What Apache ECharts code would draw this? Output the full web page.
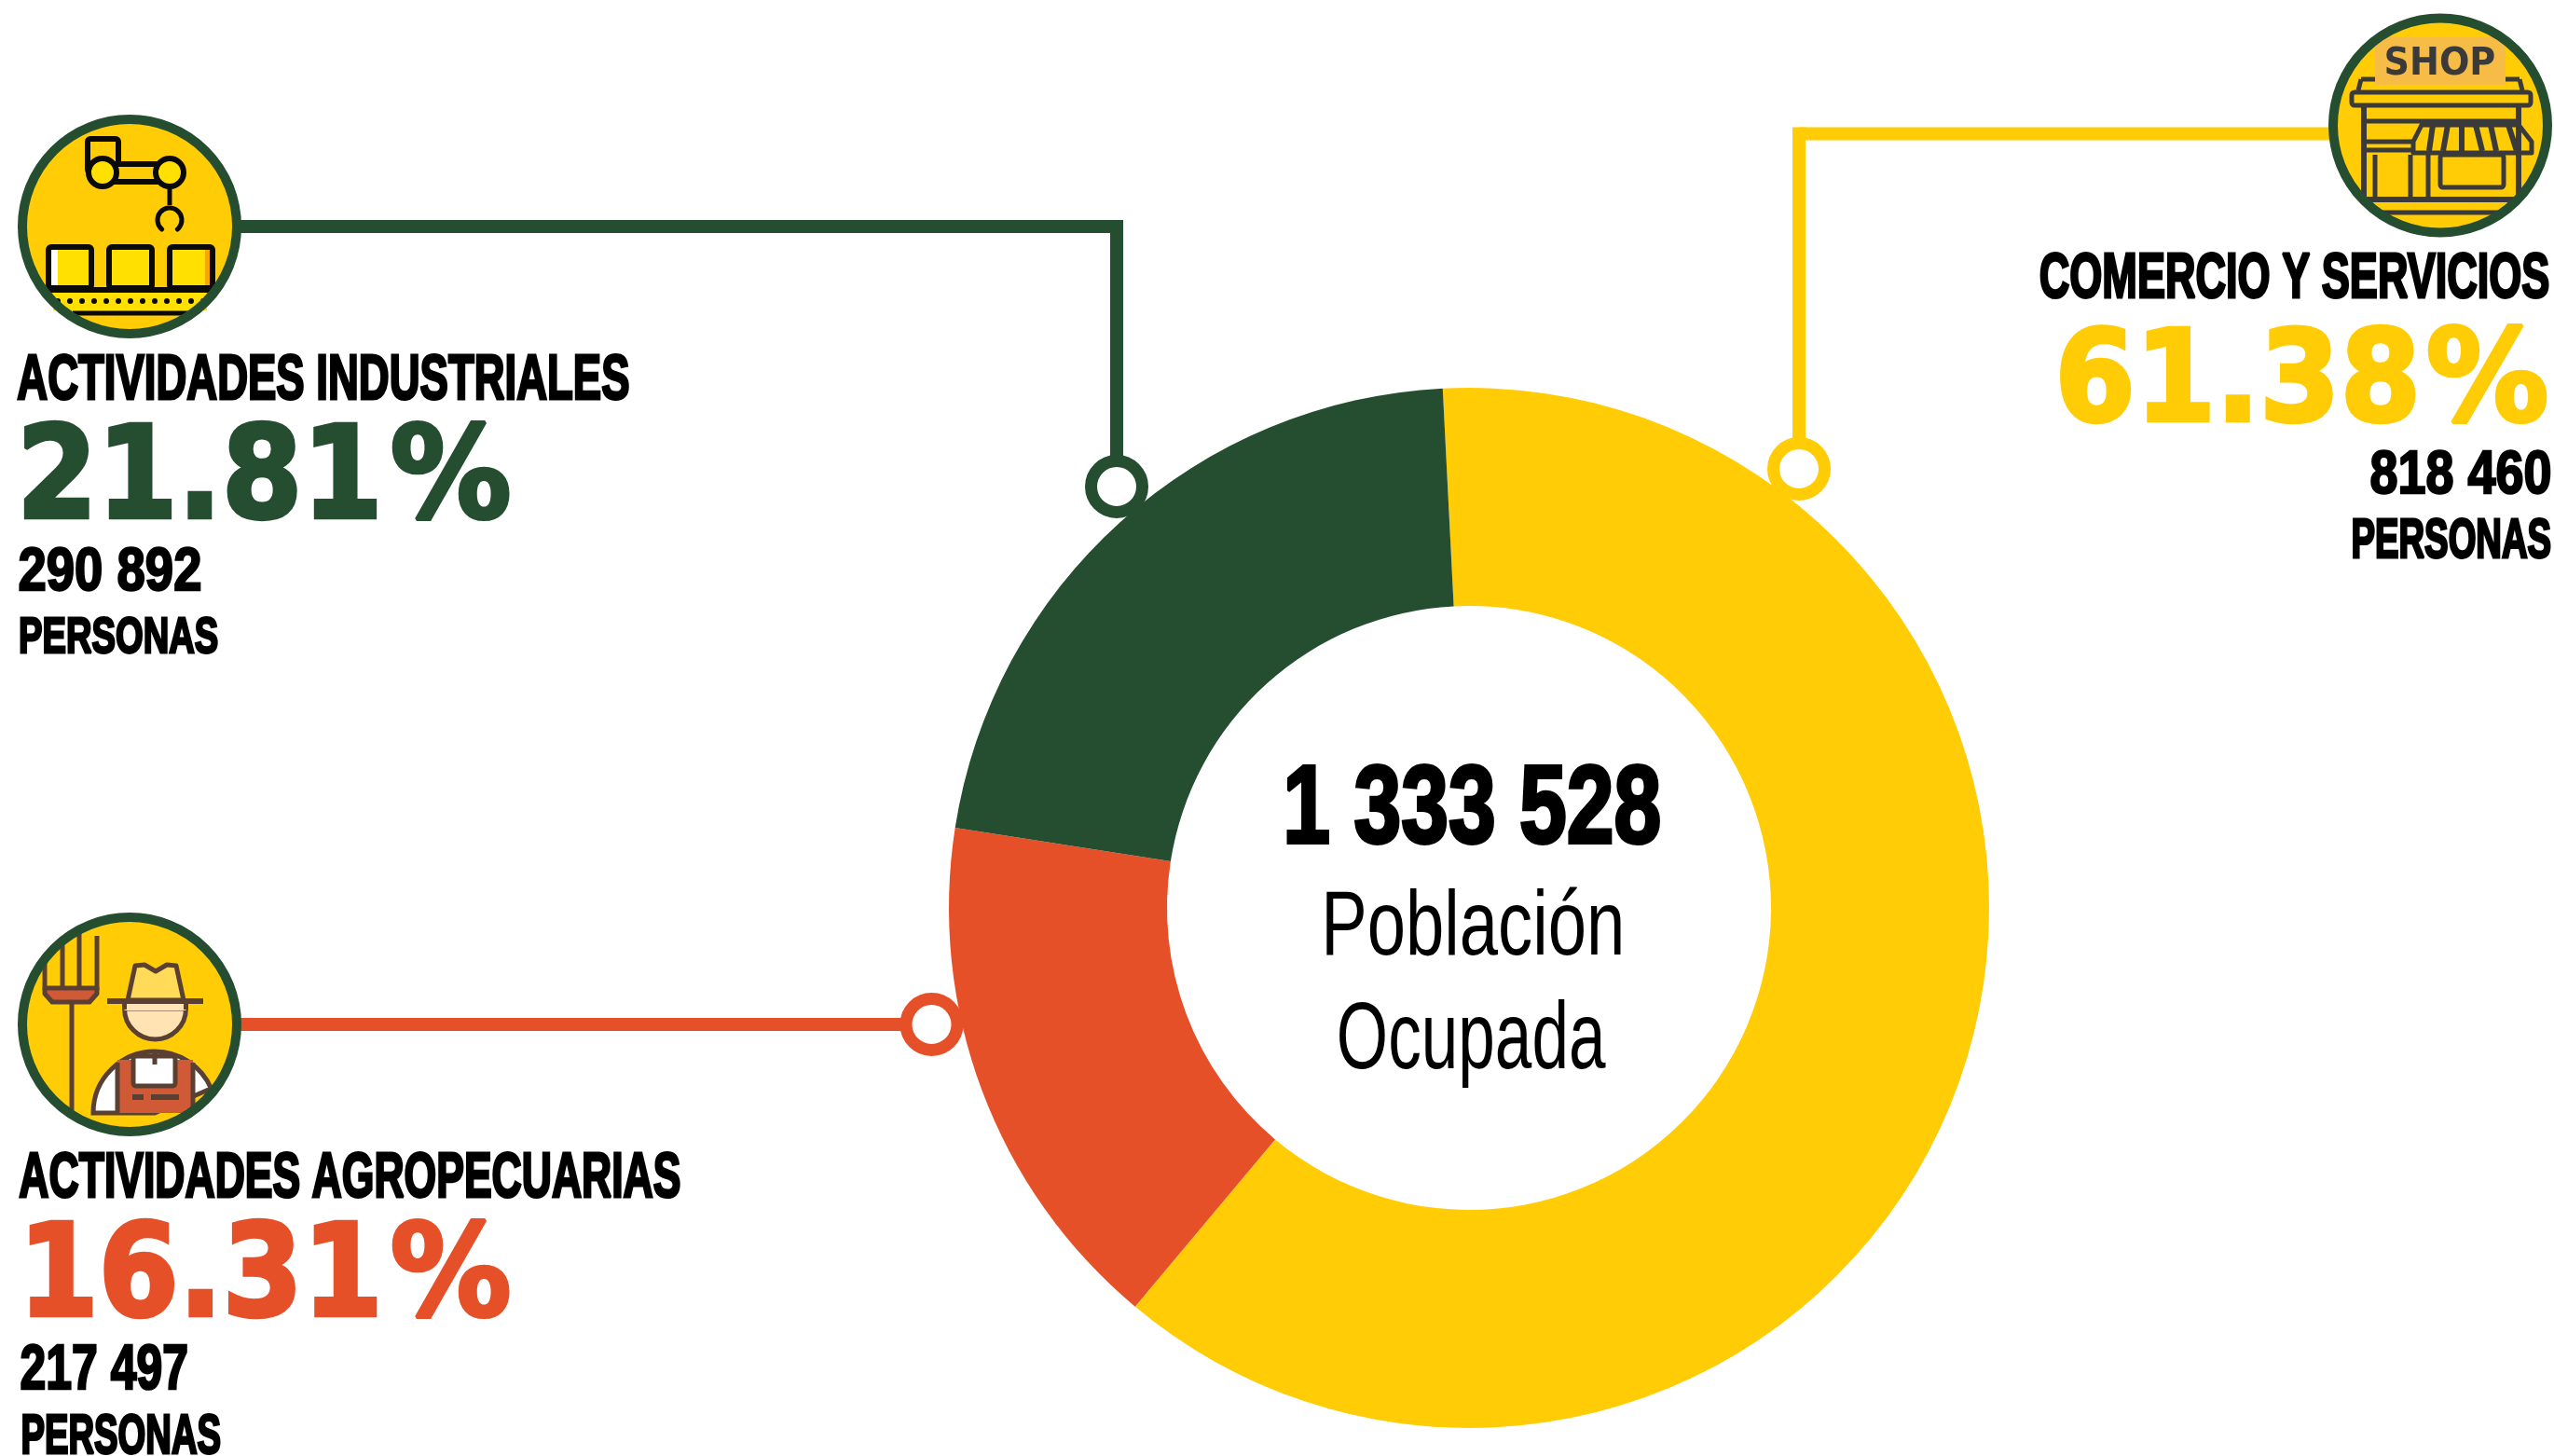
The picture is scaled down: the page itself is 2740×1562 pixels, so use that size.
<!DOCTYPE html>
<html>
<head>
<meta charset="utf-8">
<title>Población Ocupada</title>
<script src="https://cdn.jsdelivr.net/npm/echarts@6/dist/echarts.min.js"></script>
<style>
  html, body { margin: 0; padding: 0; background: #fff; }
  #chart { width: 2740px; height: 1562px; }
</style>
</head>
<body>
<div id="chart"></div>
<script>
// datos
var categorias = ['COMERCIO Y SERVICIOS', 'ACTIVIDADES AGROPECUARIAS', 'ACTIVIDADES INDUSTRIALES'];
var personasTexto = ['818 460', '217 497', '290 892'];
var porcentajes = ['61.38%', '16.31%', '21.81%'];
// parte de cada arco tal como esta dibujado en la imagen (%)
var arcos = [61.9, 16.37, 21.73];
var totalTexto = '1 333 528';
var centroTexto = ['Población', 'Ocupada'];
var unidadTexto = 'PERSONAS';

var AMARILLO = '#FFCC05', ROJO = '#E65028', VERDE = '#254E30';
var colores = [AMARILLO, ROJO, VERDE];
var NARROW = '"Liberation Sans Narrow", "Liberation Sans", sans-serif';
var SLAB = '"DejaVu Sans", sans-serif';

var ctx = document.createElement('canvas').getContext('2d');
ctx.textBaseline = 'middle';
var g = [];

// texto cuya tinta llena la caja x0-x1, yT-yB
function texto(str, x0, x1, yT, yB, weight, family, fill, grosor, z) {
    var size = (yB - yT) / 0.72;
    var font = weight + ' ' + size + 'px ' + family;
    ctx.font = font;
    var m = ctx.measureText(str);
    var e = grosor || 0;
    var sx = (x1 - x0 - e) / (m.actualBoundingBoxLeft + m.actualBoundingBoxRight);
    var sy = (yB - yT - e) / (m.actualBoundingBoxAscent + m.actualBoundingBoxDescent);
    g.push({
        type: 'text', z: z || 20,
        x: x0 + e / 2 + m.actualBoundingBoxLeft * sx,
        y: yT + e / 2 + m.actualBoundingBoxAscent * sy,
        scaleX: sx, scaleY: sy,
        style: {
            text: str, font: font, fill: fill, align: 'left', verticalAlign: 'middle',
            stroke: grosor ? fill : null, lineWidth: grosor ? grosor / sx : 0
        }
    });
}
function linea(x1, y1, x2, y2, color, ancho, z) {
    g.push({ type: 'line', z: z || 5, shape: { x1: x1, y1: y1, x2: x2, y2: y2 }, style: { stroke: color, lineWidth: ancho, lineCap: 'butt' } });
}
function caja(x0, y0, x1, y1, fill, stroke, ancho) {
    g.push({ type: 'rect', z: 12, shape: { x: x0, y: y0, width: x1 - x0, height: y1 - y0, r: stroke ? 3 : 0 }, style: { fill: fill || 'none', stroke: stroke || 'none', lineWidth: ancho || 0 } });
}
function poli(puntos, fill, stroke, ancho) {
    g.push({ type: 'polygon', z: 12, shape: { points: puntos }, style: { fill: fill || 'none', stroke: stroke || 'none', lineWidth: ancho || 0, lineJoin: 'round' } });
}
function circulo(cx, cy, r, fill, stroke, ancho, z) {
    g.push({ type: 'circle', z: z || 12, shape: { cx: cx, cy: cy, r: r }, style: { fill: fill || 'none', stroke: stroke || 'none', lineWidth: ancho || 0 } });
}
function fondoIcono(cx, cy) { circulo(cx, cy, 115, AMARILLO, null, 0, 10); }
function bordeIcono(cx, cy) { circulo(cx, cy, 115, 'none', VERDE, 10, 15); }

// lineas guia y anillos
linea(255, 243, 1198, 243, VERDE, 14);
linea(1198, 236, 1198, 500, VERDE, 14);
circulo(1198, 522, 27.5, '#fff', VERDE, 13, 8);
linea(255, 1099, 999, 1099, ROJO, 14);
circulo(999.5, 1099, 27.5, '#fff', ROJO, 13, 8);
linea(2500, 143.5, 1930, 143.5, AMARILLO, 14);
linea(1930, 136.5, 1930, 480, AMARILLO, 14);
circulo(1930, 503, 27.5, '#fff', AMARILLO, 13, 8);

// icono industria
(function () {
    var N = '#0a0a0a', A = '#FFE000';
    fondoIcono(139, 243);
    caja(94, 149, 127, 185, AMARILLO, N, 6);
    caja(110, 176, 182, 195, AMARILLO, N, 6);
    circulo(110, 185, 15, A, N, 6);
    circulo(182, 185, 15, A, N, 6);
    linea(182, 200, 182, 220, N, 5, 12);
    g.push({ type: 'arc', z: 12, shape: { cx: 182, cy: 236, r: 13, startAngle: Math.PI * 0.72, endAngle: Math.PI * 0.28, clockwise: true }, style: { stroke: N, lineWidth: 5, fill: 'none', lineCap: 'round' } });
    [[52, 98], [117, 163], [182, 228]].forEach(function (b) { caja(b[0], 265, b[1], 309, A, N, 6); });
    caja(55, 268, 62, 306, '#fff');
    caja(220, 268, 225, 306, '#F6A800');
    caja(57, 311, 222, 333, '#FFE000');
    linea(50, 311, 228, 311, N, 6, 13);
    for (var x = 62; x <= 218; x += 13) circulo(x, 323, 3, N, null, 0, 13);
    linea(78, 336, 202, 336, N, 5, 13);
    bordeIcono(139, 243);
})();

// icono agricultor
(function () {
    var C = '#5A3F33', O = '#D05A36';
    fondoIcono(139, 1099);
    poli([[48, 1060], [104, 1060], [104, 1066], [96, 1075], [56, 1075], [48, 1066]], O, C, 5);
    linea(48, 1030, 48, 1062, C, 5, 13);
    linea(67, 1010, 67, 1060, C, 5, 13);
    linea(85, 1000, 85, 1060, C, 5, 13);
    linea(104, 1004, 104, 1062, C, 5, 13);
    linea(77, 1075, 77, 1192, C, 5, 13);
    // camisa y peto
    g.push({ type: 'sector', z: 11, shape: { cx: 166, cy: 1194, r0: 0, r: 66, startAngle: Math.PI, endAngle: Math.PI * 1.87, clockwise: true }, style: { fill: '#fff', stroke: C, lineWidth: 5 } });
    caja(126, 1137, 207, 1194, O);
    caja(143, 1133, 188, 1165, '#fff', C, 5);
    linea(166, 1127, 166, 1142, C, 5, 13);
    linea(126, 1140, 126, 1195, C, 5, 13);
    linea(207, 1140, 207, 1190, C, 5, 13);
    linea(142, 1177, 154, 1177, C, 6, 13);
    linea(162, 1177, 192, 1177, C, 6, 13);
    // cara y sombrero
    g.push({ type: 'sector', z: 12, shape: { cx: 166.5, cy: 1082, r0: 0, r: 33, startAngle: 0, endAngle: Math.PI, clockwise: true }, style: { fill: '#FFE3B3', stroke: C, lineWidth: 5 } });
    caja(133.5, 1074, 199.5, 1084, '#FFE3B3');
    linea(133.5, 1075, 133.5, 1083, C, 5, 13);
    linea(199.5, 1075, 199.5, 1083, C, 5, 13);
    poli([[137, 1073], [145, 1036], [155, 1035], [167, 1042], [179, 1035], [189, 1036], [197, 1073]], '#FFDB58', C, 5);
    linea(115, 1074, 218, 1074, C, 6, 13);
    bordeIcono(139, 1099);
})();

// icono tienda
(function () {
    var K = '#3A3A3A';
    fondoIcono(2618, 134.5);
    caja(2548, 40, 2688, 91, '#F7BC45');
    texto('SHOP', 2560, 2676, 49, 81, 'bold', '"DejaVu Sans", sans-serif', K, 0, 13);
    linea(2533, 85, 2548, 85, K, 5, 13);
    linea(2688, 85, 2703, 85, K, 5, 13);
    linea(2533, 85, 2530, 97, K, 5, 13);
    linea(2703, 85, 2706, 97, K, 5, 13);
    caja(2523, 99, 2715, 113, AMARILLO, K, 5);
    linea(2536, 113, 2536, 214, K, 6, 13);
    linea(2702, 113, 2702, 214, K, 6, 13);
    linea(2536, 130, 2702, 130, K, 5, 13);
    linea(2536, 152, 2590, 152, K, 5, 13);
    linea(2536, 161, 2590, 161, K, 5, 13);
    linea(2548, 166, 2548, 214, K, 5, 13);
    linea(2586, 166, 2586, 214, K, 5, 13);
    linea(2605, 166, 2605, 214, K, 5, 13);
    caja(2618, 166, 2686, 201, AMARILLO, K, 5);
    // toldo a rayas
    var arriba = [2598, 2610, 2626, 2641, 2656, 2672, 2691, 2702];
    var abajo = [2589, 2606, 2621, 2641, 2663, 2678, 2700, 2716];
    poli([[arriba[0], 134], [arriba[7], 134], [abajo[7], 152], [abajo[7], 164], [abajo[0], 164], [abajo[0], 152]], AMARILLO, K, 5);
    for (var i = 1; i < 7; i++) linea(arriba[i], 134, abajo[i], 162, K, 6, 13);
    linea(2536, 214, 2702, 214, K, 6, 13);
    linea(2553, 228, 2686, 228, K, 5, 13);
    bordeIcono(2618, 134.5);
})();

// cajas de texto por bloque; pct = numero, sig = signo %
var bloques = [
    { cat: [2188, 2735, 270, 321], pct: [2210, 2592, 348, 455], sig: [2604, 2733, 348, 455], num: [2543, 2737, 482, 531], uni: [2524, 2737, 556, 600] },
    { cat: [20, 730, 1236, 1286], pct: [31, 405, 1307, 1415], sig: [420, 547, 1307, 1415], num: [22, 201, 1442, 1492], uni: [24, 237, 1517, 1561] },
    { cat: [18, 675, 380, 430], pct: [25, 405, 451, 559], sig: [420, 547, 451, 559], num: [20, 216, 586, 635], uni: [21, 234, 660, 702] }
];
bloques.forEach(function (b, i) {
    var p = porcentajes[i];
    texto(categorias[i], b.cat[0], b.cat[1], b.cat[2], b.cat[3], 'bold', NARROW, '#000', 2);
    texto(p.slice(0, -1), b.pct[0], b.pct[1], b.pct[2], b.pct[3], 'bold', SLAB, colores[i], 4);
    texto(p.slice(-1), b.sig[0], b.sig[1], b.sig[2], b.sig[3], 'bold', SLAB, colores[i], 4);
    texto(personasTexto[i], b.num[0], b.num[1], b.num[2], b.num[3], 'bold', NARROW, '#000', 2);
    texto(unidadTexto, b.uni[0], b.uni[1], b.uni[2], b.uni[3], 'bold', NARROW, '#000', 2);
});

// texto central
texto(totalTexto, 1380, 1781, 817, 906, 'bold', NARROW, '#000', 3);
texto(centroTexto[0], 1423, 1739, 951, 1026, 'normal', NARROW, '#000');
texto(centroTexto[1], 1437, 1723, 1072, 1168, 'normal', NARROW, '#000');

var myChart = echarts.init(document.getElementById('chart'), null, { renderer: 'canvas' });
var option = {
    backgroundColor: '#fff',
    animation: false,
    tooltip: { show: false },
    series: [{
        type: 'pie',
        center: [1576, 974],
        radius: [324, 558],
        startAngle: 92.9,
        clockwise: true,
        silent: true,
        label: { show: false },
        labelLine: { show: false },
        data: categorias.map(function (c, i) {
            return { name: c, value: arcos[i], itemStyle: { color: colores[i] } };
        })
    }],
    graphic: { elements: g }
};
myChart.setOption(option);
</script>
</body>
</html>
